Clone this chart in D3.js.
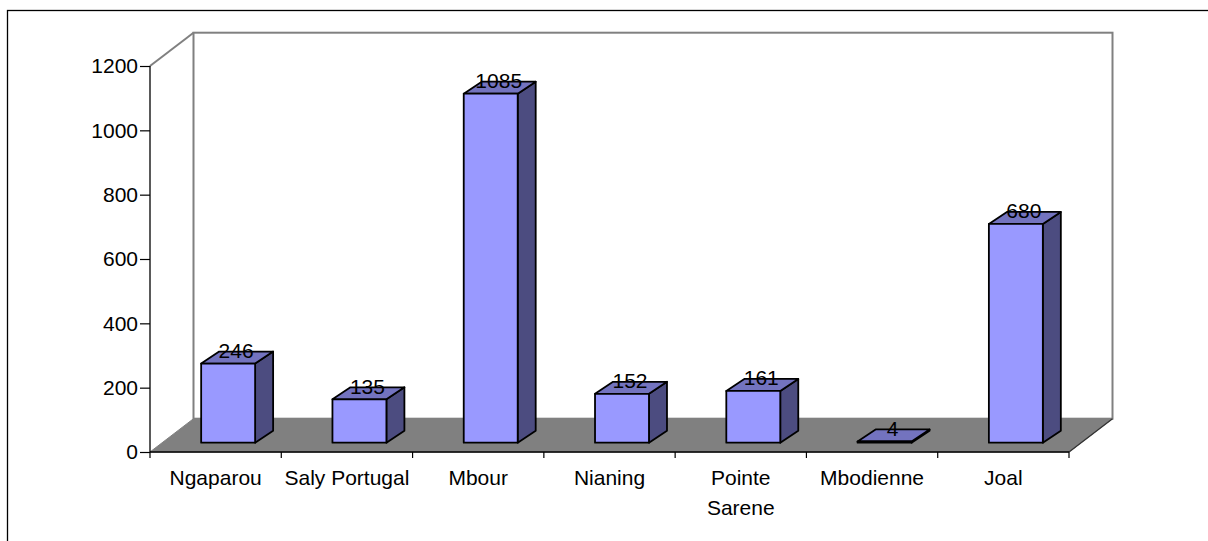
<!DOCTYPE html>
<html>
<head>
<meta charset="utf-8">
<script src="https://cdn.jsdelivr.net/npm/d3@7/dist/d3.min.js"></script>
<style>
  html, body { margin: 0; padding: 0; background: #fff; }
  svg { display: block; }
  text { font-family: "Liberation Sans", Arial, sans-serif; fill: #000; }
</style>
</head>
<body>
<svg id="chart" width="1208" height="541"></svg>
<script>
// Landing sites and their counts
const categories = ["Ngaparou", "Saly Portugal", "Mbour", "Nianing", "Pointe Sarene", "Mbodienne", "Joal"];
const values = [246, 135, 1085, 152, 161, 4, 680];
const categoryLines = [["Ngaparou"], ["Saly Portugal"], ["Mbour"], ["Nianing"], ["Pointe", "Sarene"], ["Mbodienne"], ["Joal"]];
const yTicks = [0, 200, 400, 600, 800, 1000, 1200];

(function drawChart() {
  const svg = d3.select("#chart");

  // Plot box: front plane and the oblique depth offset of the 3-D box
  const plotLeft = 150, plotRight = 1069, plotBottom = 452, plotTop = 66;
  const depth = { x: 43.5, y: -33.3 };        // full floor depth
  const barFront = { x: 12.5, y: -9.3 };      // where the bar front sits inside the depth
  const barDepth = { x: 18, y: -12 };         // thickness of each column

  const x = d3.scaleBand()
    .domain(categories)
    .range([plotLeft, plotRight])
    .paddingInner(0.589)
    .paddingOuter(0.2945);

  const y = d3.scaleLinear()
    .domain([0, 1200])
    .range([plotBottom, plotTop]);

  const pts = arr => arr.map(p => p.join(",")).join(" ");

  // Outer frame
  svg.append("rect")
    .attr("x", 7.5).attr("y", 10.5)
    .attr("width", 1400).attr("height", 800)
    .attr("fill", "none")
    .attr("stroke", "#000")
    .attr("stroke-width", 1.3);

  // Back wall
  svg.append("rect")
    .attr("x", plotLeft + depth.x)
    .attr("y", y(1200) + depth.y)
    .attr("width", plotRight - plotLeft)
    .attr("height", y(0) - y(1200))
    .attr("fill", "#fff")
    .attr("stroke", "#808080")
    .attr("stroke-width", 2);

  // Side wall top edge
  svg.append("line")
    .attr("x1", plotLeft).attr("y1", y(1200))
    .attr("x2", plotLeft + depth.x).attr("y2", y(1200) + depth.y)
    .attr("stroke", "#808080")
    .attr("stroke-width", 2);

  // Floor
  svg.append("polygon")
    .attr("points", pts([
      [plotLeft, y(0)], [plotRight, y(0)],
      [plotRight + depth.x, y(0) + depth.y], [plotLeft + depth.x, y(0) + depth.y]
    ]))
    .attr("fill", "#808080")
    .attr("stroke", "#808080")
    .attr("stroke-width", 1);

  svg.append("line")
    .attr("x1", plotRight).attr("y1", y(0))
    .attr("x2", plotRight + depth.x).attr("y2", y(0) + depth.y)
    .attr("stroke", "#333")
    .attr("stroke-width", 1.3);

  // Columns
  const bars = svg.append("g").attr("class", "bars");
  const w = x.bandwidth();
  categories.forEach((c, i) => {
    const x0 = x(c) + barFront.x;
    const yb = y(0) + barFront.y;
    const yt = y(values[i]) + barFront.y;
    const g = bars.append("g")
      .attr("stroke", "#000")
      .attr("stroke-width", 1.8)
      .attr("stroke-linejoin", "round");
    g.append("polygon")
      .attr("points", pts([
        [x0 + w, yt], [x0 + w + barDepth.x, yt + barDepth.y],
        [x0 + w + barDepth.x, yb + barDepth.y], [x0 + w, yb]
      ]))
      .attr("fill", "#4C4C80");
    g.append("polygon")
      .attr("points", pts([
        [x0, yt], [x0 + barDepth.x, yt + barDepth.y],
        [x0 + w + barDepth.x, yt + barDepth.y], [x0 + w, yt]
      ]))
      .attr("fill", "#7373BF");
    g.append("rect")
      .attr("x", x0).attr("y", yt)
      .attr("width", w).attr("height", yb - yt)
      .attr("fill", "#9999FF");
  });

  // Value labels on the column tops
  svg.append("g")
    .selectAll("text")
    .data(values)
    .join("text")
    .attr("x", (d, i) => x(categories[i]) + barFront.x + w / 2 + barDepth.x / 2 - 1)
    .attr("y", d => y(d) + barFront.y + barDepth.y / 2 + 0.5)
    .attr("text-anchor", "middle")
    .attr("font-size", 21)
    .text(d => d);

  // Value axis
  const yAxis = svg.append("g")
    .attr("transform", `translate(${plotLeft},0)`)
    .call(d3.axisLeft(y).tickValues(yTicks).tickSize(10).tickPadding(2).tickFormat(d3.format("d")));
  yAxis.select(".domain").attr("stroke", "#000").attr("stroke-width", 1.3).attr("d", `M0,${y(1200)}V${y(0)}`);
  yAxis.selectAll(".tick line").attr("stroke", "#000").attr("stroke-width", 1.2);
  yAxis.selectAll(".tick text")
    .attr("font-size", 21)
    .attr("font-family", "Liberation Sans, Arial, sans-serif")
    .attr("fill", "#000");

  // Category axis along the floor front
  const step = x.step();
  const boundaries = d3.range(categories.length + 1).map(i => plotLeft + i * step);
  svg.append("line")
    .attr("x1", plotLeft).attr("y1", y(0))
    .attr("x2", plotRight).attr("y2", y(0))
    .attr("stroke", "#000")
    .attr("stroke-width", 1.5);
  svg.append("g")
    .selectAll("line")
    .data(boundaries)
    .join("line")
    .attr("x1", d => d).attr("x2", d => d)
    .attr("y1", y(0)).attr("y2", y(0) + 6)
    .attr("stroke", "#000")
    .attr("stroke-width", 1.2);

  const catLabels = svg.append("g")
    .selectAll("text")
    .data(categories)
    .join("text")
    .attr("x", c => x(c) + w / 2)
    .attr("y", 485)
    .attr("text-anchor", "middle")
    .attr("font-size", 21);
  catLabels.each(function (c, i) {
    d3.select(this).selectAll("tspan")
      .data(categoryLines[i])
      .join("tspan")
      .attr("x", x(c) + w / 2)
      .attr("dy", (d, j) => j === 0 ? 0 : 30)
      .text(d => d);
  });
})();
</script>
</body>
</html>
